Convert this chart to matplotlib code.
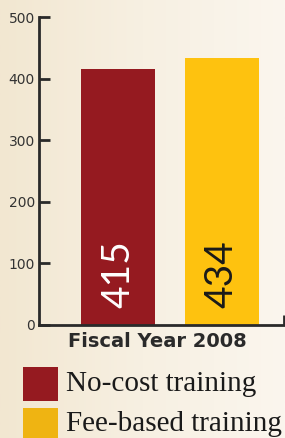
import numpy as np
import matplotlib
matplotlib.use("Agg")
import matplotlib.pyplot as plt
from matplotlib.patches import Rectangle

categories = ['No-cost training', 'Fee-based training']
values = [415, 434]
year_label = 'Fiscal Year 2008'
yticks = [0, 100, 200, 300, 400, 500]

bar_colors = ['#951a20', '#fec20f']
legend_colors = ['#951a20', '#efb412']
text_colors = ['white', '#1a1a1a']

fig = plt.figure(figsize=(2.85, 4.38), dpi=100)

# cream background gradient
bg = fig.add_axes([0, 0, 1, 1], zorder=-10)
grad = np.linspace(0, 1, 256).reshape(1, -1)
cmap = matplotlib.colors.LinearSegmentedColormap.from_list('bg', ['#f2e7d1', '#f7f0e2', '#fbf6ee'])
bg.imshow(grad, aspect='auto', cmap=cmap, extent=[0, 1, 0, 1])
bg.axis('off')

ax = fig.add_axes([0.137, 0.258, 0.859, 0.703])
ax.patch.set_alpha(0)
x = np.arange(len(values))
ax.bar(x, values, width=0.71, color=bar_colors)

for xi, v, c in zip(x, values, text_colors):
    ax.text(xi, 28, str(v), rotation=90, ha='center', va='bottom',
            color=c, fontsize=28, family='Lato')

ax.set_xlim(-0.76, 1.596)
ax.set_ylim(0, 500)
ax.set_yticks(yticks)
ax.set_xticks([1.596])
ax.set_xticklabels([''])
for s in ['top', 'right']:
    ax.spines[s].set_visible(False)
for s in ['left', 'bottom']:
    ax.spines[s].set_linewidth(2)
    ax.spines[s].set_color('#2a2a2a')
ax.tick_params(axis='y', direction='in', length=8, width=2, color='#2a2a2a',
               labelsize=10, labelcolor='#333333', pad=3)
ax.tick_params(axis='x', direction='in', length=7, width=2, color='#2a2a2a')

fig.text(0.553, 0.221, year_label, ha='center', va='center', fontsize=14,
         fontweight='bold', color='#2a2a2a', family='DejaVu Sans')

# legend
leg_y = [0.123, 0.031]
for yy, col, lab in zip(leg_y, legend_colors, categories):
    fig.add_artist(Rectangle((0.081, yy - 0.038), 0.123, 0.076, transform=fig.transFigure,
                             color=col, lw=0))
    fig.text(0.232, yy, lab, ha='left', va='center', fontsize=21,
             family='Liberation Serif', color='#1a1a1a')

fig.savefig('out.png', dpi=100)
